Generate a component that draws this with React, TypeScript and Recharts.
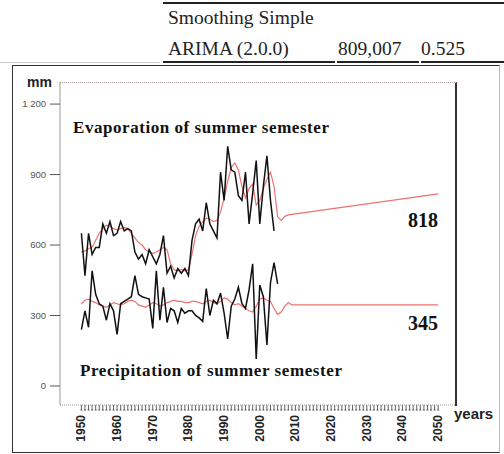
import React from "react";
import { LineChart, Line, XAxis, YAxis } from "recharts";

// years 1950..2004 (evaporation) and 1950..2005 (precipitation)
const startYear = 1950;

const evapObserved = [
  650, 470, 650, 560, 590, 590, 690, 650, 700, 640,
  650, 700, 660, 670, 660, 570, 540, 560, 520, 580,
  550, 520, 560, 640, 480, 510, 460, 500, 480, 500,
  470, 620, 690, 710, 660, 780, 690, 660, 630, 910,
  790, 1020, 920, 910, 810, 790, 910, 690, 820, 960,
  690, 850, 980, 790, 660,
];

const evapSmoothed = [
  570, 575, 585, 590, 620, 650, 670, 685, 680, 670,
  665, 670, 675, 670, 650, 630, 610, 600, 580, 570,
  565, 570, 580, 590, 580, 520, 495, 490, 495, 490,
  495, 560, 640, 680, 700, 715, 710, 700, 705, 740,
  800, 870, 930, 950, 920, 850, 800, 840, 860, 770,
  790, 840, 880, 910, 850, 720, 705, 722, 728,
];

const precipObserved = [
  240, 320, 250, 490, 390, 350, 340, 280, 350, 320,
  220, 350, 360, 370, 380, 470, 390, 380, 375, 370,
  245, 490, 280, 420, 270, 330, 320, 270, 330, 310,
  320, 320, 300, 290, 275, 415, 300, 365, 350, 395,
  310, 200, 340, 370, 420, 350, 330, 410, 520, 115,
  430, 380, 175, 440, 525, 435,
];

const precipSmoothed = [
  350, 365, 370, 360, 355, 345, 340, 335, 345, 355,
  350, 345, 350, 360, 365, 360, 345, 340, 335, 345,
  355, 350, 340, 345, 355, 360, 365, 360, 360, 355,
  355, 360, 360, 355, 350, 360, 365, 355, 350, 360,
  375, 370, 355, 345, 350, 340, 330, 320, 315, 340,
  370, 375, 365, 360, 330, 305, 315, 340, 355, 345,
];

// forecast to 2050
const evapForecastYears = [2008, 2050];
const evapForecast = [728, 818];
const precipForecastYears = [2009, 2050];
const precipForecast = [345, 345];

const yTicks = [0, 300, 600, 900, 1200];
const decadeLabels = [1950, 1960, 1970, 1980, 1990, 2000, 2010, 2020, 2030, 2040, 2050];
const yearTicks = Array.from({ length: 101 }, (_, i) => 1950 + i);

const fromStart = (vals: number[]) => vals.map((v, i) => ({ year: startYear + i, v }));
const fromYears = (years: number[], vals: number[]) => years.map((y, i) => ({ year: y, v: vals[i] }));

const evapObsData = fromStart(evapObserved);
const evapSmoothData = [...fromStart(evapSmoothed), ...fromYears(evapForecastYears, evapForecast).slice(1)];
const precipObsData = fromStart(precipObserved);
const precipSmoothData = [...fromStart(precipSmoothed), ...fromYears(precipForecastYears, precipForecast).slice(1)];

const RED = "#ee7272";
const BLACK = "#111";

const serif = "'Liberation Serif', 'Times New Roman', serif";
const sans = "'Liberation Sans', Arial, sans-serif";

// every year gets a small T-shaped tick, decades get a rotated label
const XTick = (props: any) => {
  const { x, payload } = props;
  const showLabel = decadeLabels.includes(payload.value);
  return (
    <g>
      <path d={`M${x - 1},410 L${x + 1},410`} stroke="#555" strokeWidth={1} fill="none" />
      {showLabel && (
        <text
          transform={`translate(${x + 4},415) rotate(-90)`}
          textAnchor="end"
          fontFamily={sans}
          fontWeight="bold"
          fontSize={12}
          fill="#222"
        >
          {payload.value}
        </text>
      )}
    </g>
  );
};

export default function App() {
  return (
    <div style={{ position: "absolute", left: 0, top: 0, width: 504, height: 454, background: "#fff", overflow: "hidden" }}>
      {/* table fragment above the chart */}
      <div style={{ position: "absolute", left: 163, top: 2, width: 341, height: 2, background: "#222" }} />
      <div style={{ position: "absolute", left: 168, top: 7, fontFamily: serif, fontSize: 19.5, color: "#222" }}>Smoothing Simple</div>
      <div style={{ position: "absolute", left: 168, top: 38, fontFamily: serif, fontSize: 19.5, color: "#222" }}>ARIMA (2.0.0)</div>
      <div style={{ position: "absolute", left: 338, top: 38, fontFamily: serif, fontSize: 19.5, color: "#222" }}>809,007</div>
      <div style={{ position: "absolute", left: 421, top: 38, fontFamily: serif, fontSize: 19.5, color: "#222" }}>0.525</div>
      <div style={{ position: "absolute", left: 163, top: 61, width: 172, height: 2, background: "#222" }} />
      <div style={{ position: "absolute", left: 337, top: 61, width: 82, height: 2, background: "#222" }} />
      <div style={{ position: "absolute", left: 421, top: 61, width: 83, height: 2, background: "#222" }} />
      <div style={{ position: "absolute", left: 0, top: 62, width: 160, height: 1, background: "#ccc" }} />

      {/* outer frame */}
      <div style={{ position: "absolute", left: 12, top: 65, width: 486, height: 386, borderTop: "1.5px solid #333", borderLeft: "1.5px solid #333", borderBottom: "1.5px solid #333", borderRight: "1px solid #bbb" }} />

      <div style={{ position: "absolute", left: 0, top: 0 }}>
        <LineChart width={504} height={454} margin={{ top: 82, right: 48, bottom: 0, left: 0 }}>
          <XAxis
            dataKey="year"
            type="number"
            domain={[1944, 2055]}
            ticks={yearTicks}
            interval={0}
            height={49}
            tickSize={5}
            tickLine={{ stroke: "#666" }}
            axisLine={{ stroke: "#999", strokeDasharray: "1 1" }}
            tick={<XTick />}
          />
          <YAxis
            type="number"
            domain={[-81, 1294]}
            ticks={yTicks}
            width={60}
            tickSize={10}
            tickMargin={4}
            tickLine={{ stroke: "#555" }}
            axisLine={{ stroke: "#999" }}
            tick={{ fontFamily: sans, fontSize: 9.5, fill: "#555" }}
            tickFormatter={(v: number) => (v === 1200 ? "1 200" : String(v))}
          />
          <Line data={evapSmoothData} dataKey="v" stroke={RED} strokeWidth={1.2} dot={false} isAnimationActive={false} />
          <Line data={precipSmoothData} dataKey="v" stroke={RED} strokeWidth={1.2} dot={false} isAnimationActive={false} />
          <Line data={evapObsData} dataKey="v" stroke={BLACK} strokeWidth={1.5} dot={false} isAnimationActive={false} />
          <Line data={precipObsData} dataKey="v" stroke={BLACK} strokeWidth={1.5} dot={false} isAnimationActive={false} />
        </LineChart>
      </div>

      {/* plot box: top dotted, right solid */}
      <div style={{ position: "absolute", left: 60, top: 82, width: 395, height: 323, borderTop: "1px dotted #a99", borderRight: "2px solid #333", pointerEvents: "none" }} />

      <div style={{ position: "absolute", left: 27, top: 74, fontFamily: sans, fontWeight: "bold", fontSize: 14, color: "#222" }}>mm</div>
      <div style={{ position: "absolute", left: 454, top: 405, fontFamily: sans, fontWeight: "bold", fontSize: 15, color: "#222" }}>years</div>

      <div style={{ position: "absolute", left: 73, top: 118, fontFamily: serif, fontWeight: "bold", fontSize: 17, letterSpacing: 0.55, color: "#111", whiteSpace: "nowrap" }}>
        Evaporation of summer semester
      </div>
      <div style={{ position: "absolute", left: 80, top: 361, fontFamily: serif, fontWeight: "bold", fontSize: 17, letterSpacing: 0.6, color: "#111", whiteSpace: "nowrap" }}>
        Precipitation of summer semester
      </div>
      <div style={{ position: "absolute", left: 408, top: 209, fontFamily: serif, fontWeight: "bold", fontSize: 20, color: "#111" }}>818</div>
      <div style={{ position: "absolute", left: 408, top: 312, fontFamily: serif, fontWeight: "bold", fontSize: 20, color: "#111" }}>345</div>
    </div>
  );
}
